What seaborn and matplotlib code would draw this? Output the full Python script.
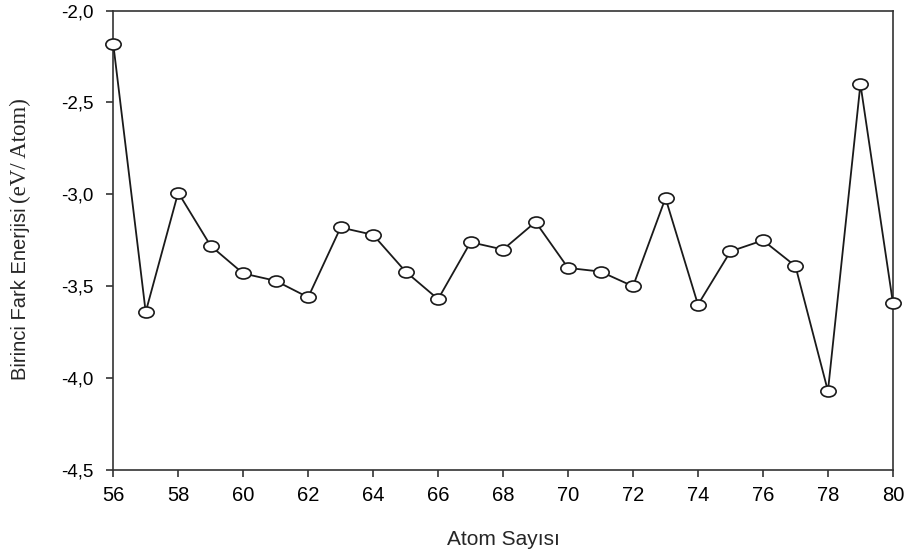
import numpy as np
import pandas as pd
import seaborn as sns
import matplotlib
matplotlib.use("Agg")
import matplotlib.pyplot as plt
from matplotlib.path import Path
from matplotlib.ticker import FuncFormatter

# Atom sayısı ve birinci fark enerjisi (eV/Atom)
atom_sayisi = list(range(56, 81))
fark_enerjisi = [-2.18, -3.64, -2.99, -3.28, -3.43, -3.47, -3.56, -3.18, -3.22,
                 -3.42, -3.57, -3.26, -3.30, -3.15, -3.40, -3.42, -3.50, -3.02,
                 -3.60, -3.31, -3.25, -3.39, -4.07, -2.40, -3.59]
x_ticks = list(range(56, 81, 2))
y_ticks = [-4.5, -4.0, -3.5, -3.0, -2.5, -2.0]

df = pd.DataFrame({"atom": atom_sayisi, "enerji": fark_enerjisi})

sns.set_style("ticks")
plt.rcParams["font.family"] = ["Liberation Sans", "DejaVu Sans"]

fig = plt.figure(figsize=(9.13, 5.57), dpi=100)
ax = fig.add_axes([0.124, 0.156, 0.854, 0.825])

# slightly flattened open circle marker
circ = Path.unit_circle()
ellipse = Path(circ.vertices * np.array([1.0, 0.72]), circ.codes)

sns.lineplot(data=df, x="atom", y="enerji", ax=ax, color="#1a1a1a",
             linewidth=1.3, marker=ellipse, markersize=11,
             markerfacecolor="white", markeredgecolor="#1a1a1a",
             markeredgewidth=1.2, clip_on=False, zorder=5)

ax.set_xlim(56, 80)
ax.set_ylim(-4.5, -2.0)
ax.set_xticks(x_ticks)
ax.set_yticks(y_ticks)
ax.yaxis.set_major_formatter(FuncFormatter(lambda v, p: f"{v:.1f}".replace(".", ",")))
ax.tick_params(axis="both", direction="out", length=5, width=1.2,
               color="#333333", labelcolor="black")
ax.tick_params(axis="x", labelsize=14.5, pad=6.5)
ax.tick_params(axis="y", labelsize=13.5, pad=9)
ax.tick_params(top=False, right=False)
for s in ax.spines.values():
    s.set_linewidth(1.2)
    s.set_color("#333333")

ax.set_xlabel("Atom Sayısı", fontsize=15, labelpad=18)
ax.set_ylabel("")

# y label: sans part plus serif unit part
t1 = fig.text(20.5 / 913, 1 - 380 / 557, "Birinci Fark Enerjisi", rotation=90,
              ha="center", va="bottom", fontsize=14.5,
              family=["Liberation Sans", "DejaVu Sans"])
fig.canvas.draw()
bb = t1.get_window_extent()
t2 = fig.text(20.5 / 913, (bb.y1 + 4) / fig.bbox.height, "(eV/ Atom)", rotation=90,
              ha="center", va="bottom", fontsize=16.5,
              family=["Liberation Serif", "DejaVu Serif"])

fig.savefig("out.png", dpi=100)
